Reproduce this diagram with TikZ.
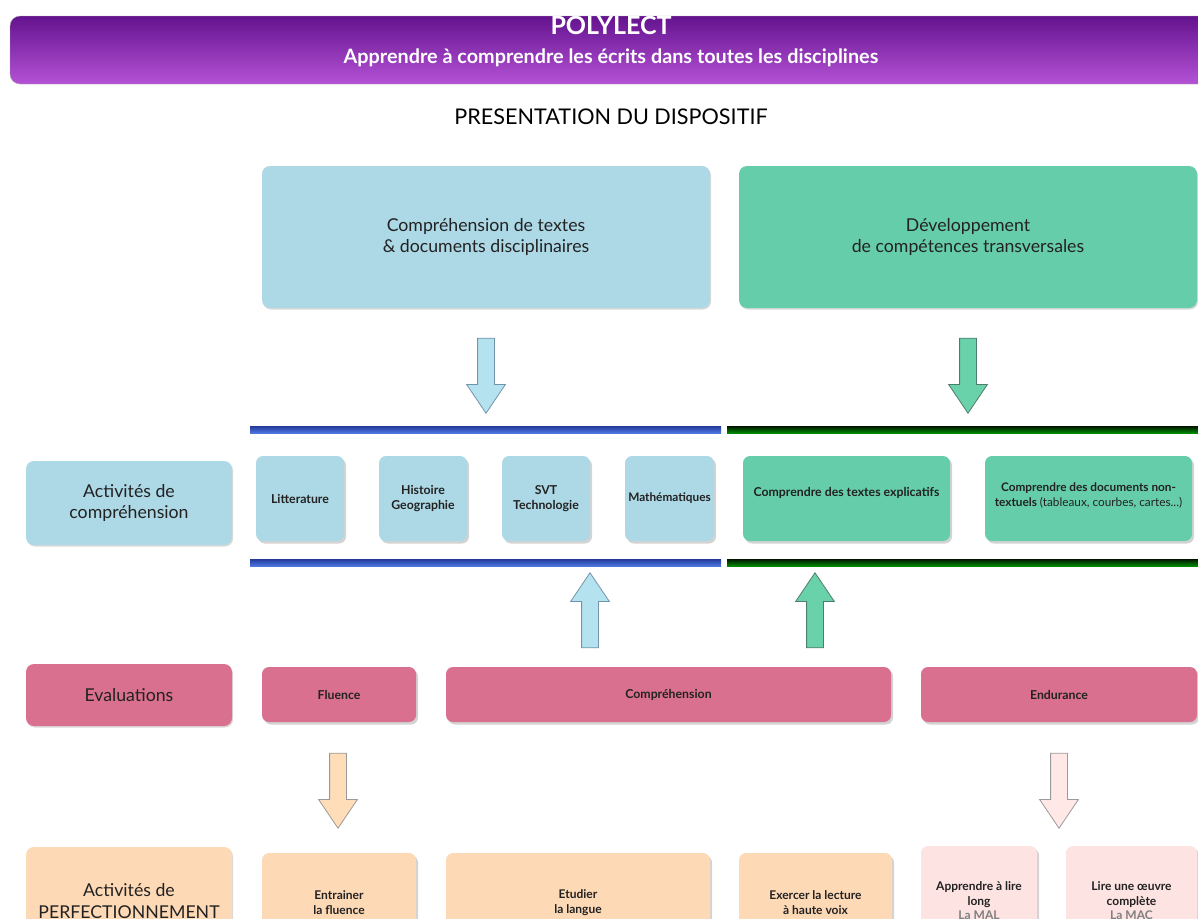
\documentclass[tikz,border=0pt]{standalone}
\usepackage{fontspec}
\setmainfont{Lato}
\usetikzlibrary{positioning,shapes.arrows,shadows}

\definecolor{boxblue}{HTML}{ADD8E6}
\definecolor{boxgreen}{HTML}{66CDAA}
\definecolor{boxpink}{HTML}{D9708F}
\definecolor{boxpeach}{HTML}{FDD9B6}
\definecolor{boxrose}{HTML}{FDE3E1}
\definecolor{inkdark}{HTML}{222222}
\definecolor{headtop}{HTML}{64138F}
\definecolor{headbot}{HTML}{B452D5}
\definecolor{arrblue}{HTML}{B5E2EF}
\definecolor{arrblueln}{HTML}{7393AC}
\definecolor{arrgreen}{HTML}{69D2AB}
\definecolor{arrgreenln}{HTML}{4F7D6D}
\definecolor{arrpeach}{HTML}{FFDDB8}
\definecolor{arrrose}{HTML}{FFE8E5}
\definecolor{arrgrey}{HTML}{9A9A9A}
\definecolor{bartopB}{HTML}{233A98}
\definecolor{barbotB}{HTML}{4E76E2}
\definecolor{bartopG}{HTML}{001400}
\definecolor{barbotG}{HTML}{008A00}

\begin{document}
\begin{tikzpicture}[x=1pt,y=-1pt,
	every node/.style={text=inkdark,inner sep=2pt},
	box/.style={rounded corners=8pt,align=center,font=\fontsize{17.7}{21.5}\selectfont,
		drop shadow={shadow xshift=1pt,shadow yshift=-1.5pt,opacity=.3,fill=gray}},
	tag/.style={rounded corners=7pt,align=center,font=\bfseries\fontsize{12.3}{15.5}\selectfont,
		drop shadow={shadow xshift=2pt,shadow yshift=-2.5pt,opacity=.35,fill=gray}},
	fatarrow/.style={single arrow,single arrow head extend=11pt,single arrow tip angle=68,
		inner sep=8pt,minimum width=38pt,minimum height=75pt,line width=.8pt}]

	\useasboundingbox (0,0) rectangle (1198,918);
	\clip (0,0) rectangle (1198,918);

	% header
	\node[rounded corners=10pt,top color=headtop,bottom color=headbot,draw=gray!70,
		minimum width=1204,minimum height=68] (head) at (612,50) {};
	\node[text=white,font=\bfseries\fontsize{25}{28}\selectfont] (title) at (611,25) {POLYLECT};
	\node[text=white,font=\bfseries\fontsize{19.8}{22}\selectfont] (subtitle) at (611,58)
		{Apprendre à comprendre les écrits dans toutes les disciplines};
	\node[text=black,font=\fontsize{21.6}{25}\selectfont] (pres) at (611,117) {PRESENTATION DU DISPOSITIF};

	% top boxes
	\node[box,fill=boxblue,minimum width=448,minimum height=142] (discipl) at (486,237)
		{Compréhension de textes\\\& documents disciplinaires};
	\node[box,fill=boxgreen,minimum width=458,minimum height=142] (transv) at (968,237)
		{Développement\\de compétences transversales};

	\node[fatarrow,fill=arrblue,draw=arrblueln,rotate=-90] (downA) at (486,369.5) {};
	\node[fatarrow,fill=arrgreen,draw=arrgreenln,rotate=-90] (downB) at (968,369.5) {};

	% bars
	\shade[top color=bartopB,bottom color=barbotB] (250,426) rectangle (721,433);
	\shade[top color=bartopG,bottom color=barbotG] (727,426) rectangle (1198,433);
	\shade[top color=bartopB,bottom color=barbotB] (250,559) rectangle (721,566);
	\shade[top color=bartopG,bottom color=barbotG] (727,559) rectangle (1198,566);

	% comprehension row
	\node[box,fill=boxblue,minimum width=206,minimum height=84] (actcomp) at (129,503)
		{Activités de\\compréhension};
	\node[tag,fill=boxblue,minimum width=88,minimum height=85] (litt) at (300,498.5) {Litterature};
	\node[tag,fill=boxblue,minimum width=88,minimum height=85] (hist) at (423,498.5) {Histoire\\Geographie};
	\node[tag,fill=boxblue,minimum width=88,minimum height=85] (svt) at (546,498.5) {SVT\\Technologie};
	\node[tag,fill=boxblue,minimum width=89,minimum height=85,font=\bfseries\fontsize{11.8}{15}\selectfont] (math) at (669.5,498.5) {Mathématiques};
	\node[tag,fill=boxgreen,minimum width=207,minimum height=85,text depth=14pt] (expl) at (846.5,498.5)
		{Comprendre des textes explicatifs};
	\node[tag,fill=boxgreen,minimum width=207,minimum height=85,inner sep=1pt,font=\bfseries\fontsize{11.8}{15.5}\selectfont] (nontext) at (1088.5,498.5)
		{Comprendre des documents non-\\textuels {\mdseries (tableaux, courbes, cartes...)}\\[-8pt]};

	\node[fatarrow,fill=arrblue,draw=arrblueln,rotate=90] (upA) at (590,616.5) {};
	\node[fatarrow,fill=arrgreen,draw=arrgreenln,rotate=90] (upB) at (815,616.5) {};

	% evaluations row
	\node[box,fill=boxpink,minimum width=206,minimum height=62] (evals) at (129,695) {Evaluations};
	\node[tag,fill=boxpink,minimum width=154,minimum height=55] (fluence) at (339,694.5) {Fluence};
	\node[tag,fill=boxpink,minimum width=445,minimum height=55] (compr) at (668.5,694.5) {Compréhension};
	\node[tag,fill=boxpink,minimum width=276,minimum height=55] (endur) at (1059,694.5) {Endurance};

	\node[fatarrow,fill=arrpeach,draw=arrgrey,rotate=-90] (downC) at (338,784.5) {};
	\node[fatarrow,fill=arrrose,draw=arrgrey,rotate=-90] (downD) at (1059,784.5) {};

	% perfectionnement row
	\node[box,fill=boxpeach,minimum width=206,minimum height=108] (perf) at (129,901)
		{Activités de\\PERFECTIONNEMENT};
	\node[tag,fill=boxpeach,font=\bfseries\fontsize{12}{15}\selectfont,minimum width=154,minimum height=99] (entr) at (339,902.5)
		{Entrainer\\la fluence};
	\node[tag,fill=boxpeach,font=\bfseries\fontsize{12}{15}\selectfont,minimum width=264,minimum height=99] (etud) at (578,902.5)
		{Etudier\\la langue};
	\node[tag,fill=boxpeach,font=\bfseries\fontsize{12}{15}\selectfont,minimum width=153,minimum height=99] (exerc) at (815.5,902.5)
		{Exercer la lecture\\à haute voix};
	\node[tag,fill=boxrose,font=\bfseries\fontsize{12}{14.5}\selectfont,minimum width=116,minimum height=110] (mal) at (979,901)
		{Apprendre à lire\\long\\{\color{gray}La MAL}};
	\node[tag,fill=boxrose,font=\bfseries\fontsize{12}{14.5}\selectfont,minimum width=131,minimum height=110] (mac) at (1131.5,901)
		{Lire une œuvre\\complète\\{\color{gray}La MAC}};
\end{tikzpicture}
\end{document}
